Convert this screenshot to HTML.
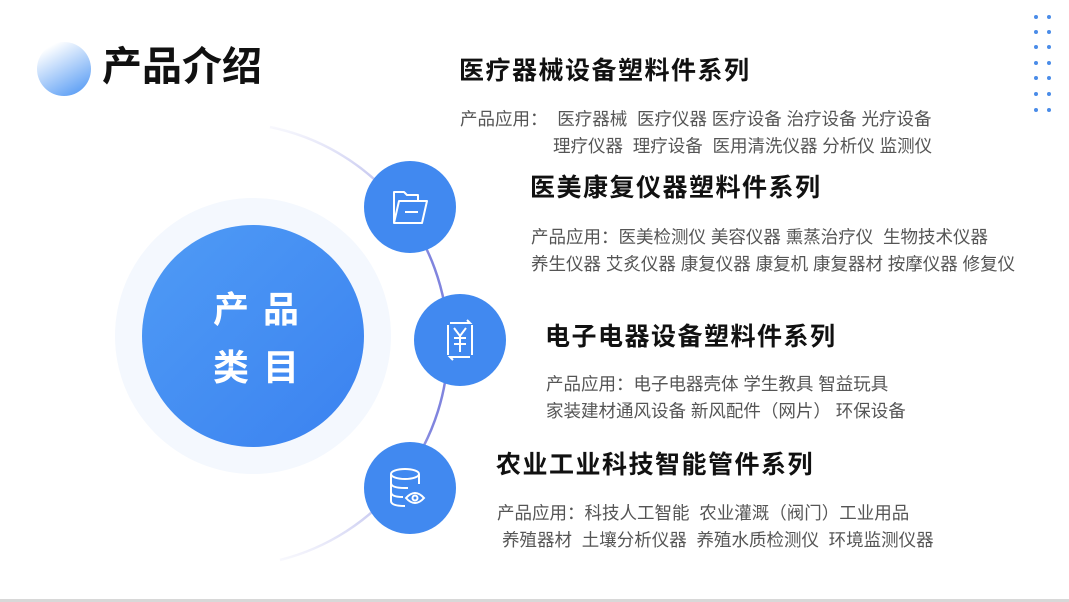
<!DOCTYPE html>
<html><head><meta charset="utf-8"><style>
*{margin:0;padding:0}
body{width:1069px;height:602px;background:#fff;position:relative;overflow:hidden;font-family:"Liberation Sans","Noto Sans CJK SC",sans-serif}
.t{position:absolute;white-space:pre;line-height:1}
.h{font-size:25px;font-weight:bold;color:#111}
.b{font-size:17.5px;color:#555}
</style></head><body>
<svg width="1069" height="602" style="position:absolute;left:0;top:0">
<defs>
<linearGradient id="arc" x1="0" y1="0" x2="0" y2="1">
<stop offset="0" stop-color="#6a6fd8" stop-opacity="0.05"/>
<stop offset="0.3" stop-color="#6a6fd8" stop-opacity="0.85"/>
<stop offset="0.7" stop-color="#6a6fd8" stop-opacity="0.85"/>
<stop offset="1" stop-color="#6a6fd8" stop-opacity="0.05"/>
</linearGradient>
<linearGradient id="ball" x1="0.2" y1="0.1" x2="0.7" y2="1">
<stop offset="0" stop-color="#ffffff"/>
<stop offset="1" stop-color="#5fa0f5"/>
</linearGradient>
<linearGradient id="main" x1="0" y1="0" x2="1" y2="1">
<stop offset="0" stop-color="#4f9bf5"/>
<stop offset="1" stop-color="#3b82f0"/>
</linearGradient>
</defs>
<circle cx="64" cy="69" r="27" fill="url(#ball)"/>
<path d="M270 127 A222 222 0 0 1 280 560" fill="none" stroke="url(#arc)" stroke-width="2.5"/>
<circle cx="253" cy="336" r="138" fill="#f4f8fe"/>
<circle cx="253" cy="336" r="111" fill="url(#main)"/>
<g fill="#4189f0"><circle cx="410" cy="207" r="46"/><circle cx="460" cy="340" r="46"/><circle cx="410" cy="488" r="46"/></g>
<g fill="none" stroke="#fff" stroke-width="2" stroke-linejoin="round">
<path d="M394 223 V192 h10 l3 3 h11 v5"/>
<path d="M394 223 l5 -22 h28 l-5 22 z"/>
<line x1="405" y1="212" x2="418" y2="212"/>
</g>
<g fill="none" stroke="#fff" stroke-width="2">
<path d="M448 325 v30 M450 323 h20 l-3 -3 M472 325 v30 M470 357 h-20 l3 3"/>
<path d="M454 328 l6 8 l6 -8 M454 338 h12 M454 344 h12 M460 336 v16"/>
</g>
<g fill="none" stroke="#fff" stroke-width="2">
<ellipse cx="405" cy="474" rx="14" ry="5"/>
<path d="M391 474 v27 q0 5 14 5 M391 483 q0 5 14 5 h3 M391 492 q0 5 12 5 M419 474 v10"/>
<path d="M406 498 q9 -10 18 0 q-9 10 -18 0 z"/>
<circle cx="415" cy="498" r="2.5"/>
</g>
<g fill="#4a8ce8">
<circle cx="1036" cy="17" r="2"/><circle cx="1049" cy="17" r="2"/>
<circle cx="1036" cy="32" r="2"/><circle cx="1049" cy="32" r="2"/>
<circle cx="1036" cy="47" r="2"/><circle cx="1049" cy="47" r="2"/>
<circle cx="1036" cy="63" r="2"/><circle cx="1049" cy="63" r="2"/>
<circle cx="1036" cy="78" r="2"/><circle cx="1049" cy="78" r="2"/>
<circle cx="1036" cy="94" r="2"/><circle cx="1049" cy="94" r="2"/>
<circle cx="1036" cy="110" r="2"/><circle cx="1049" cy="110" r="2"/>
</g>
<rect x="0" y="599" width="1069" height="3" fill="#d8d8d8"/>
</svg>
<div class="t" style="left:102px;top:47px;font-size:40px;font-weight:bold;color:#111">产品介绍</div>
<div class="t" style="left:213px;top:292px;font-size:36px;font-weight:bold;color:#fff;letter-spacing:14px">产品</div>
<div class="t" style="left:213px;top:350px;font-size:36px;font-weight:bold;color:#fff;letter-spacing:14px">类目</div>

<div class="t h" style="left:459px;top:59px;letter-spacing:1.5px">医疗器械设备塑料件系列</div>
<div class="t b" style="left:460px;top:111px">产品应用：  医疗器械  医疗仪器 医疗设备 治疗设备 光疗设备</div>
<div class="t b" style="left:553px;top:138px">理疗仪器  理疗设备  医用清洗仪器 分析仪 监测仪</div>

<div class="t h" style="left:530px;top:176px;letter-spacing:1.5px">医美康复仪器塑料件系列</div>
<div class="t b" style="left:531px;top:229px">产品应用：医美检测仪 美容仪器 熏蒸治疗仪  生物技术仪器</div>
<div class="t b" style="left:531px;top:256px">养生仪器 艾炙仪器 康复仪器 康复机 康复器材 按摩仪器 修复仪</div>

<div class="t h" style="left:545px;top:325px;letter-spacing:1.5px">电子电器设备塑料件系列</div>
<div class="t b" style="left:546px;top:376px">产品应用：电子电器壳体 学生教具 智益玩具</div>
<div class="t b" style="left:546px;top:403px">家装建材通风设备 新风配件（网片） 环保设备</div>

<div class="t h" style="left:496px;top:453px;letter-spacing:1.5px">农业工业科技智能管件系列</div>
<div class="t b" style="left:497px;top:505px">产品应用：科技人工智能  农业灌溉（阀门）工业用品</div>
<div class="t b" style="left:502px;top:532px">养殖器材  土壤分析仪器  养殖水质检测仪  环境监测仪器</div>
</body></html>
